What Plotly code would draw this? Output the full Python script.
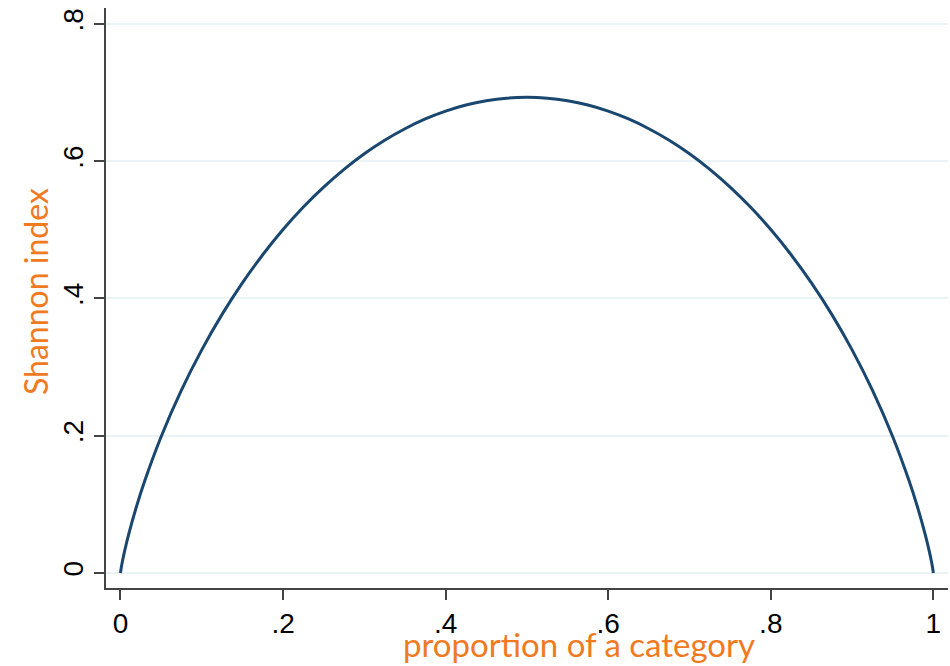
import plotly.graph_objects as go

# proportion of a category (p) and Shannon index values
proportion = [0.0, 0.001, 0.0025, 0.005, 0.01, 0.02, 0.03, 0.05, 0.075, 0.1, 0.125, 0.15, 0.175, 0.2, 0.225, 0.25, 0.275,
              0.3, 0.325, 0.35, 0.375, 0.4, 0.425, 0.45, 0.475, 0.5,
              0.525, 0.55, 0.575, 0.6, 0.625, 0.65, 0.675, 0.7, 0.725, 0.75, 0.775, 0.8, 0.825, 0.85, 0.875, 0.9,
              0.925, 0.95, 0.97, 0.98, 0.99, 0.995, 0.9975, 0.999, 1.0]
shannon = [0.0, 0.0079, 0.0175, 0.0315, 0.056, 0.098, 0.1347, 0.1985, 0.2664, 0.3251, 0.3768, 0.4227, 0.4637, 0.5004, 0.5332, 0.5623, 0.5882,
           0.6109, 0.6306, 0.6474, 0.6616, 0.673, 0.6819, 0.6881, 0.6919, 0.6931,
           0.6919, 0.6881, 0.6819, 0.673, 0.6616, 0.6474, 0.6306, 0.6109, 0.5882, 0.5623, 0.5332, 0.5004, 0.4637, 0.4227, 0.3768, 0.3251,
           0.2664, 0.1985, 0.1347, 0.098, 0.056, 0.0315, 0.0175, 0.0079, 0.0]

x_ticks = [0, 0.2, 0.4, 0.6, 0.8, 1.0]
x_tick_labels = ["0", ".2", ".4", ".6", ".8", "1"]
y_ticks = [0, 0.2, 0.4, 0.6, 0.8]
y_tick_labels = ["0", ".2", ".4", ".6", ".8"]

orange = "#ef7a22"
fig = go.Figure()
fig.add_trace(go.Scatter(x=proportion, y=shannon, mode="lines", line=dict(color="#1a476f", width=3, shape="spline", smoothing=1.0),
                         showlegend=False, hoverinfo="skip"))

fig.update_layout(
    width=950, height=666,
    margin=dict(l=106, r=2, t=8, b=78),
    paper_bgcolor="white", plot_bgcolor="white",
    xaxis=dict(range=[-0.0178, 1.018], tickvals=x_ticks, ticktext=x_tick_labels, showgrid=False, zeroline=False,
               showline=True, linecolor="#444444", linewidth=1.5, ticks="outside", ticklen=10, tickwidth=1.5, tickcolor="#444444",
               tickfont=dict(family="Liberation Sans", size=28, color="black"), automargin=False),
    yaxis=dict(range=[-0.0219, 0.8233], tickvals=y_ticks, ticktext=y_tick_labels, showgrid=True, gridcolor="#eaf2f3", gridwidth=2,
               zeroline=False, showline=True, linecolor="#444444", linewidth=1.5, ticks="outside", ticklen=10, tickwidth=1.5,
               tickcolor="#444444", tickangle=-90, tickfont=dict(family="Liberation Sans", size=28, color="black"), automargin=False),
    annotations=[
        dict(text="proportion of a category", x=579, y=666, xref="paper", yref="paper", showarrow=False,
             xanchor="center", yanchor="bottom", font=dict(family="Lato", size=33, color=orange)),
        dict(text="Shannon index", x=35, y=292, xref="paper", yref="paper", showarrow=False, textangle=-90,
             xanchor="center", yanchor="middle", font=dict(family="Lato", size=32, color=orange)),
    ],
)
# convert pixel positions of annotations into paper coordinates
pl, pr, pt, pb = 106, 948, 8, 588
for a in fig.layout.annotations:
    a.x = (a.x - pl) / (pr - pl)
    a.y = (pb - a.y) / (pb - pt)

fig.write_html("out.html", config={"displayModeBar": False},
               post_script="document.body.style.margin='0';document.body.style.overflow='hidden';")
